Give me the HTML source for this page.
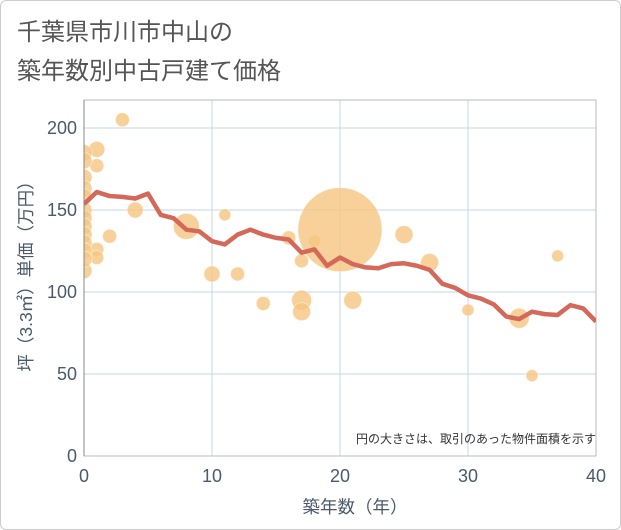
<!DOCTYPE html>
<html><head><meta charset="utf-8"><style>
html,body{margin:0;padding:0;background:#fff}
body{width:621px;height:530px;overflow:hidden;font-family:"Liberation Sans","Noto Sans CJK JP",sans-serif}
.frame{position:absolute;left:0;top:0;width:619px;height:528px;border:1px solid #ccc;border-radius:6px}
</style></head><body>
<div class="frame"></div>
<svg id="chart" width="621" height="530" style="position:absolute;left:0;top:0">
<text x="17" y="40" font-size="24" fill="#555" font-family="Liberation Sans, Noto Sans CJK JP, sans-serif">千葉県市川市中山の</text>
<text x="17" y="79" font-size="24" fill="#555" font-family="Liberation Sans, Noto Sans CJK JP, sans-serif">築年数別中古戸建て価格</text>
<defs><clipPath id="pc"><rect x="84" y="100" width="512" height="356"/></clipPath></defs>
<g id="grid"></g>
<g id="bubbles" clip-path="url(#pc)"></g>
<g id="line" clip-path="url(#pc)"></g>
<g id="axes"></g>
<text x="596" y="443" font-size="12" fill="#333" text-anchor="end" font-family="Liberation Sans, Noto Sans CJK JP, sans-serif">円の大きさは、取引のあった物件面積を示す</text>
<text x="355" y="513" font-size="17.5" fill="#4a5a6a" text-anchor="middle" font-family="Liberation Sans, Noto Sans CJK JP, sans-serif">築年数（年）</text>
<text transform="translate(32,272) rotate(-90)" font-size="17.5" fill="#4a5a6a" text-anchor="middle" font-family="Liberation Sans, Noto Sans CJK JP, sans-serif">坪（3.3㎡）単価（万円）</text>
</svg>
<script>
const xTicks=[0,10,20,30,40];
const yTicks=[0,50,100,150,200];
const lineYears=[0,1,2,3,4,5,6,7,8,9,10,11,12,13,14,15,16,17,18,19,20,21,22,23,24,25,26,27,28,29,30,31,32,33,34,35,36,37,38,39,40];
const lineValues=[153.7,161,158.5,158,157,160,147,145,138,137,131,129,135,138,135,133,132,124,126,116,121,117,115,114.5,117,117.5,116,113.5,105,102.5,98,96,92.5,85,83.5,88,86.5,86,92,90,82];
const bubbleYears=[3,1,1,4,2,1,1,0,0,0,0,0,0,0,0,0,0,0,0,0,8,11,10,12,14,16,17,17,17,18,20,21,25,27,30,34,35,37];
const bubbleValues=[205,187,177,150,134,126,121,113,185,180,170,163,158,150,145,140,135,130,125,120,140,147,111,111,93,133,119,95,88,131,138,95,135,118,89,84,49,122];
const bubbleAreas=[7,8,7,8,7,7,7,8,8,8,8,8,8,8,8,8,8,8,8,8,13,6,8,7,7,7,7,10,9,6,42,9,9,9,6,10,6,6];
const X=v=>84+v*12.8, Y=v=>456-v*1.64;
const NS="http://www.w3.org/2000/svg";
function mk(t,a,p){const e=document.createElementNS(NS,t);for(const k in a)e.setAttribute(k,a[k]);p.appendChild(e);return e;}
const grid=document.getElementById('grid'),axes=document.getElementById('axes');
xTicks.forEach(t=>{const l=mk('line',{x1:X(t),x2:X(t),y1:100,y2:456,stroke:'#c5d6ea','stroke-width':1},grid);


const tx=mk('text',{x:X(t),y:482,'font-size':18,fill:'#4a5a6a','text-anchor':'middle'},axes);tx.textContent=t;

});
yTicks.forEach(t=>{const l=mk('line',{x1:84,x2:596,y1:Y(t),y2:Y(t),stroke:'#c5d6ea','stroke-width':1},grid);


const tx=mk('text',{x:77,y:Y(t)+6,'font-size':18,fill:'#4a5a6a','text-anchor':'end'},axes);tx.textContent=t;

});
mk('rect',{x:84,y:100,width:512,height:356,fill:'none',stroke:'#bbb'},grid);
const ax=mk('line',{x1:84,x2:84,y1:100,y2:456,stroke:'#888'},axes);


const bg=document.getElementById('bubbles');
bubbleYears.forEach((yr,i)=>{const c=mk('circle',{cx:X(yr),cy:Y(bubbleValues[i]),r:bubbleAreas[i],fill:'#f5c57f','fill-opacity':0.8,stroke:'#fff','stroke-opacity':0.4},bg);

});
const pts=lineYears.map((yr,i)=>X(yr)+','+Y(lineValues[i])).join(' ');
const pl=mk('polyline',{points:pts,fill:'none',stroke:'#d4695a','stroke-width':4.5,'stroke-linejoin':'round'},document.getElementById('line'));


</script>
</body></html>
